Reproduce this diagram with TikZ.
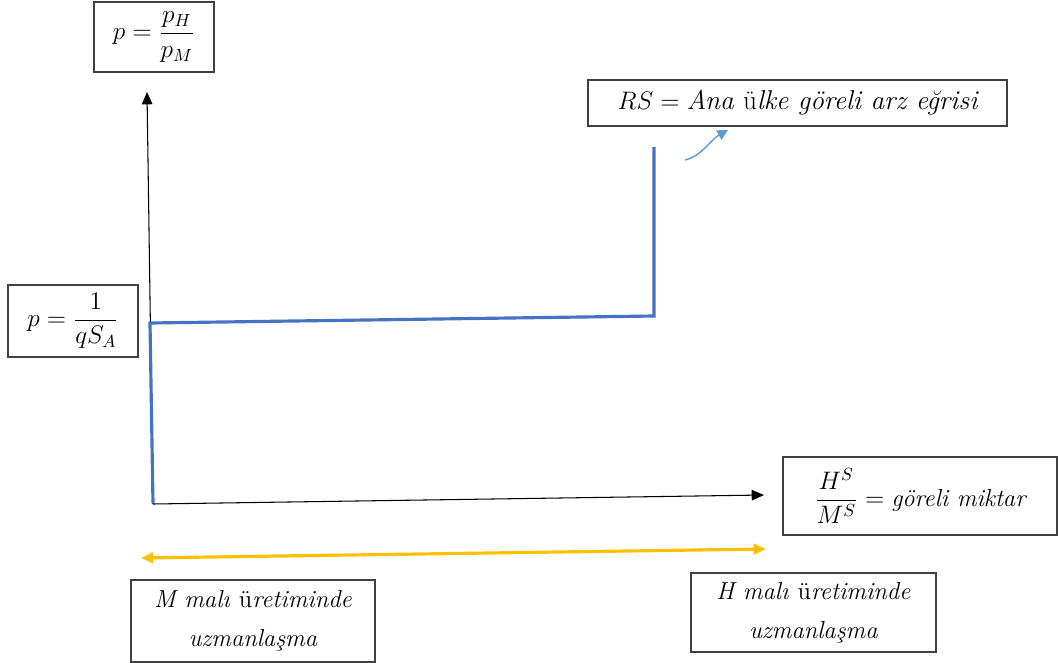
\documentclass[tikz,border=0pt]{standalone}
\usepackage{amsmath}
\usepackage{fontspec}
\usetikzlibrary{arrows.meta}
\definecolor{curveblue}{HTML}{4472C4}
\definecolor{noteblue}{HTML}{5B9BD5}
\definecolor{rangegold}{HTML}{FFC000}
\begin{document}
\begin{tikzpicture}[x=0.02cm,y=-0.02cm]
\useasboundingbox (0,0) rectangle (1059,663);
\tikzset{
  lbl/.style={draw=black!75, line width=0.7pt, inner sep=0pt, align=center,
              font=\fontsize{14}{20}\selectfont},
  axisline/.style={line width=0.6pt, -{Triangle[length=7pt,width=6pt]}},
  supply/.style={curveblue, line width=1.8pt},
  spanarrow/.style={rangegold, line width=1.8pt, {Triangle[length=7pt,width=6pt]}-{Triangle[length=7pt,width=6pt]}},
  pointer/.style={noteblue, line width=0.8pt, -{Triangle[length=6pt,width=6pt]}}
}
% labels
\node[lbl, minimum width=2.4cm, minimum height=1.4cm] (pdef) at (154,37) {$p=\dfrac{p_H}{p_M}$};
\node[lbl, minimum width=8.38cm, minimum height=0.92cm, font=\fontsize{15.5}{20}\selectfont] (rs) at (797.5,103) {$RS=\textit{Ana }\text{ü}\textit{lke göreli arz eğrisi}$};
\node[lbl, minimum width=2.6cm, minimum height=1.44cm] (pval) at (73,321) {$p=\dfrac{1}{qS_A}$};
\node[lbl, minimum width=5.48cm, minimum height=1.56cm] (qty) at (920,496) {$\dfrac{H^S}{M^S}=\textit{göreli miktar}$};
\node[lbl, minimum width=4.88cm, minimum height=1.64cm] (mspec) at (253,621) {\textit{M malı }ü\textit{retiminde}\\[2pt]\textit{uzmanlaşma}};
\node[lbl, minimum width=4.9cm, minimum height=1.58cm] (hspec) at (813.5,612.5) {\textit{H malı }ü\textit{retiminde}\\[2pt]\textit{uzmanlaşma}};
% axes
\coordinate (O) at (153,504);
\coordinate (ytop) at (147,92);
\coordinate (xend) at (764,495);
\draw[axisline] (O) -- (ytop);
\draw[axisline] (O) -- (xend);
% relative supply curve
\coordinate (s0) at (153,503);
\coordinate (s1) at (150,323);
\coordinate (s2) at (654,316);
\coordinate (s3) at (654,147);
\draw[supply] (s0) -- (s1) -- (s2) -- (s3);
% pointer to the curve label
\coordinate (n0) at (685,160);
\coordinate (n1) at (728,130);
\draw[pointer] (n0) .. controls (702,156) and (710,140) .. (n1);
% specialisation range
\coordinate (r0) at (141,558);
\coordinate (r1) at (766,549);
\draw[spanarrow] (r0) -- (r1);
\end{tikzpicture}
\end{document}
